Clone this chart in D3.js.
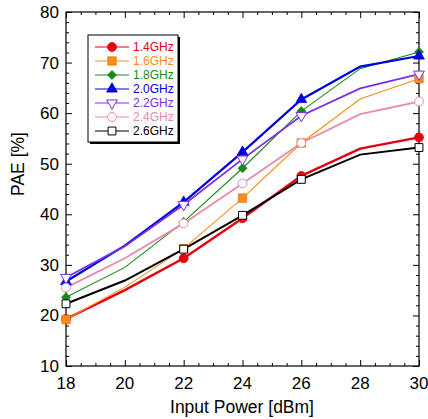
<!DOCTYPE html>
<html lang="en">
<head>
<meta charset="UTF-8">
<title>PAE vs input power</title>
<script src="https://cdn.jsdelivr.net/npm/d3@7"></script>
<style>
  body { margin: 0; background: #fff; }
  text { font-family: "Liberation Sans", Arial, sans-serif; }
</style>
</head>
<body>
<svg id="chart" width="428" height="419"></svg>
<script>
// input power (dBm)
const inputPower = [18, 20, 22, 24, 26, 28, 30];
const markedPower = [18, 22, 24, 26, 30]; // symbols only drawn at these points
const freqNames = ["1.4GHz", "1.6GHz", "1.8GHz", "2.0GHz", "2.2GHz", "2.4GHz", "2.6GHz"];
const pae14 = [19.3, 25.0, 31.3, 39.2, 47.6, 53.0, 55.2];
const pae16 = [19.2, 25.6, 33.2, 43.2, 54.1, 62.8, 66.8];
const pae18 = [23.6, 29.5, 38.5, 49.1, 60.4, 68.8, 72.1];
const pae20 = [26.7, 33.8, 42.4, 52.3, 62.7, 69.2, 71.3];
const pae22 = [27.5, 33.7, 41.9, 50.9, 59.5, 64.9, 67.7];
const pae24 = [25.5, 31.3, 38.2, 46.1, 54.1, 59.8, 62.3];
const pae26 = [22.3, 26.9, 33.1, 39.8, 46.9, 51.8, 53.2];
const xTicks = [18, 20, 22, 24, 26, 28, 30];
const yTicks = [10, 20, 30, 40, 50, 60, 70, 80];

const seriesData = [pae14, pae16, pae18, pae20, pae22, pae24, pae26];
const colors = ["#e4000f", "#ff8c1a", "#168a16", "#0000dd", "#7a2ee6", "#e88aac", "#000000"];
const lineW = [2.4, 1.1, 1.1, 2.2, 1.8, 1.8, 2.0];
const symbols = [d3.symbolCircle, d3.symbolSquare, d3.symbolSquare, d3.symbolTriangle, d3.symbolTriangle, d3.symbolCircle, d3.symbolSquare];
const symSize = [62, 70, 40, 50, 50, 62, 62];
const filled = [true, true, true, true, false, false, false];
const rot = [0, 0, 45, 0, 180, 0, 0];

const svg = d3.select("#chart");
const L = 66, R = 419, T = 12, B = 366;

let x = d3.scaleLinear().domain([18, 30]).range([L, R]);
let y = d3.scaleLinear().domain([10, 80]).range([B, T]);

// frame
svg.append("rect").attr("x", L).attr("y", T).attr("width", R - L).attr("height", B - T)
  .attr("fill", "none").attr("stroke", "#000").attr("stroke-width", 1.2);

// ticks inside on all four sides
function ticks(g, axis) { g.call(axis).call(s => s.select(".domain").remove()).selectAll("line").attr("stroke", "#000"); }
const xMinor = d3.range(18, 30.01, 0.5).filter(v => v % 2 !== 0);
const yMinor = d3.range(10, 80.01, 2).filter(v => v % 10 !== 0);

svg.append("g").attr("transform", `translate(0,${B})`)
  .call(g => ticks(g, d3.axisTop(x).tickValues(xTicks).tickSize(6).tickFormat("")));
svg.append("g").attr("transform", `translate(0,${B})`)
  .call(g => ticks(g, d3.axisTop(x).tickValues(xMinor).tickSize(3).tickFormat("")));
svg.append("g").attr("transform", `translate(0,${T})`)
  .call(g => ticks(g, d3.axisBottom(x).tickValues(xTicks).tickSize(6).tickFormat("")));
svg.append("g").attr("transform", `translate(0,${T})`)
  .call(g => ticks(g, d3.axisBottom(x).tickValues(xMinor).tickSize(3).tickFormat("")));
svg.append("g").attr("transform", `translate(${L},0)`)
  .call(g => ticks(g, d3.axisRight(y).tickValues(yTicks).tickSize(6).tickFormat("")));
svg.append("g").attr("transform", `translate(${L},0)`)
  .call(g => ticks(g, d3.axisRight(y).tickValues(yMinor).tickSize(3).tickFormat("")));
svg.append("g").attr("transform", `translate(${R},0)`)
  .call(g => ticks(g, d3.axisLeft(y).tickValues(yTicks).tickSize(6).tickFormat("")));
svg.append("g").attr("transform", `translate(${R},0)`)
  .call(g => ticks(g, d3.axisLeft(y).tickValues(yMinor).tickSize(3).tickFormat("")));

// tick labels
svg.selectAll(".xl").data(xTicks).enter().append("text")
  .attr("x", d => x(d)).attr("y", 389).attr("text-anchor", "middle")
  .style("font-size", "17px").text(d => d);
svg.selectAll(".yl").data(yTicks).enter().append("text")
  .attr("x", 59).attr("y", d => y(d) + 6).attr("text-anchor", "end")
  .style("font-size", "17px").text(d => d);

// axis titles
svg.append("text").attr("x", 242).attr("y", 413).attr("text-anchor", "middle")
  .style("font-size", "17.5px").text("Input Power [dBm]");
svg.append("text").attr("transform", "translate(24,164) rotate(-90)").attr("text-anchor", "middle")
  .style("font-size", "17.5px").text("PAE [%]");

// lines + markers
let line = d3.line().x((d, i) => x(inputPower[i])).y(d => y(d));
seriesData.forEach((vals, k) => {
  svg.append("path").datum(vals).attr("d", line)
    .attr("fill", "none").attr("stroke", colors[k]).attr("stroke-width", lineW[k]);
});
function marker(g, k, px, py) {
  g.append("path").attr("d", d3.symbol().type(symbols[k]).size(symSize[k])())
    .attr("transform", `translate(${px},${py}) rotate(${rot[k]})`)
    .attr("fill", filled[k] ? colors[k] : "#fff")
    .attr("stroke", k === 1 ? "#e07a10" : colors[k]).attr("stroke-width", filled[k] ? 0.8 : 1);
}
seriesData.forEach((vals, k) => {
  vals.forEach((v, i) => {
    if (markedPower.includes(inputPower[i])) marker(svg, k, x(inputPower[i]), y(v));
  });
});

// legend
const lg = svg.append("g");
lg.append("rect").attr("x", 90).attr("y", 37).attr("width", 90).attr("height", 107).attr("fill", "#000");
lg.append("rect").attr("x", 88).attr("y", 35).attr("width", 90).attr("height", 107)
  .attr("fill", "#fff").attr("stroke", "#000").attr("stroke-width", 1);
freqNames.forEach((name, k) => {
  const ly = 47 + k * 14;
  lg.append("line").attr("x1", 95).attr("x2", 129).attr("y1", ly).attr("y2", ly)
    .attr("stroke", colors[k]).attr("stroke-width", 1);
  marker(lg, k, 112, ly);
  lg.append("text").attr("x", 133).attr("y", ly + 4).style("font-size", "12px")
    .attr("fill", colors[k]).text(name);
});
</script>
</body>
</html>
